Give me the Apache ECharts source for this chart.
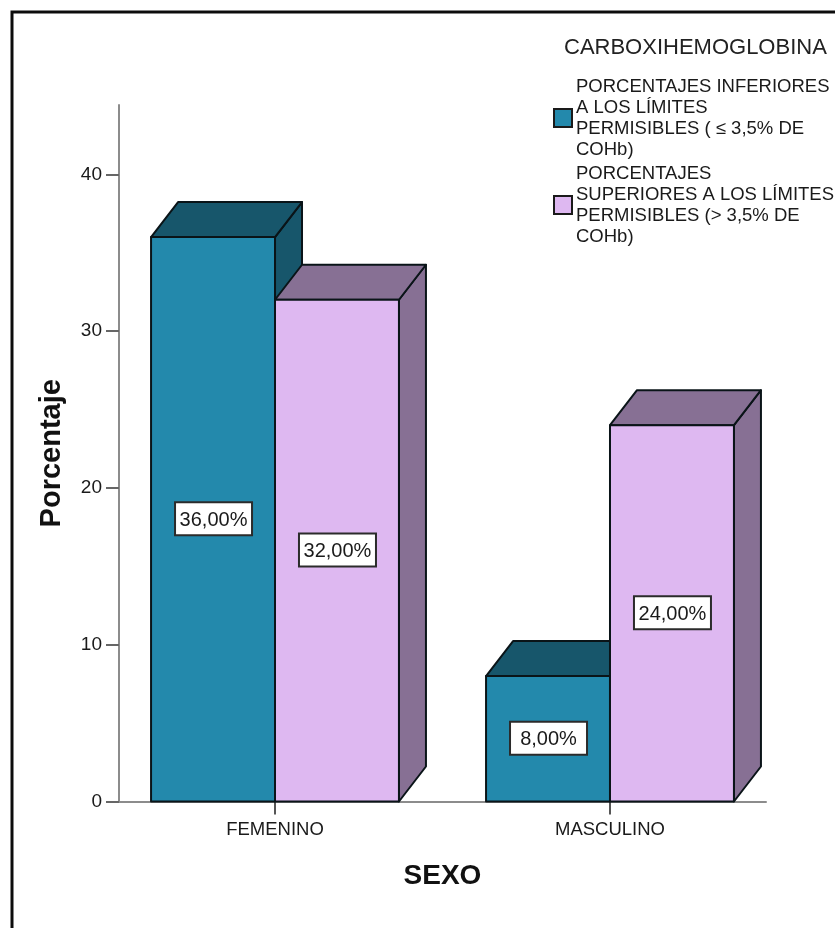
<!DOCTYPE html>
<html>
<head>
<meta charset="utf-8">
<style>html,body{margin:0;padding:0;background:#fff}#chart{width:835px;height:928px}</style>
<script src="https://cdn.jsdelivr.net/npm/echarts@6/dist/echarts.min.js"></script>
</head>
<body>
<div id="chart"></div>
<script>
const categories = ['FEMENINO', 'MASCULINO'];
const inferiores = [36, 8];
const superiores = [32, 24];
const valueTicks = [0, 10, 20, 30, 40];
const legendTitle = 'CARBOXIHEMOGLOBINA';
const inferioresName = 'PORCENTAJES INFERIORES\nA LOS LÍMITES\nPERMISIBLES ( ≤ 3,5% DE\nCOHb)';
const superioresName = 'PORCENTAJES\nSUPERIORES A LOS LÍMITES\nPERMISIBLES (> 3,5% DE\nCOHb)';

const FONT = '"Liberation Sans", Arial, sans-serif';
const BAR_WIDTH = 0.37;      // front face width, in category units
const DEPTH_X = 27, DEPTH_Y = 35;  // pixel offset of the back face

// Draws one extruded bar: side and top faces in the shaded colour, then the front and its value tag.
function prismRenderer(shift, frontColor, shadeColor) {
  return function (params, api) {
    const idx = api.value(0), val = api.value(1);
    const w = api.size([BAR_WIDTH, 0])[0];
    const base = api.coord([idx + shift, 0]);
    const top = api.coord([idx + shift, val]);
    const l = base[0] - w / 2, r = base[0] + w / 2, b = base[1], t = top[1];
    const edge = { stroke: '#0a1418', lineWidth: 2, lineJoin: 'round' };
    const poly = (points, fill) => ({
      type: 'polygon', shape: { points }, style: Object.assign({ fill }, edge)
    });
    const midY = (b + t) / 2;
    return {
      type: 'group',
      children: [
        poly([[r, b], [r + DEPTH_X, b - DEPTH_Y], [r + DEPTH_X, t - DEPTH_Y], [r, t]], shadeColor),
        poly([[l, t], [l + DEPTH_X, t - DEPTH_Y], [r + DEPTH_X, t - DEPTH_Y], [r, t]], shadeColor),
        poly([[l, b], [l, t], [r, t], [r, b]], frontColor),
        {
          type: 'rect',
          shape: { x: (l + r) / 2 - 38, y: midY - 17, width: 77, height: 33 },
          style: { fill: '#fff', stroke: '#2b2b2b', lineWidth: 2 }
        },
        {
          type: 'text',
          x: (l + r) / 2 + 0.5, y: midY + 1,
          style: {
            text: val.toFixed(2).replace('.', ',') + '%',
            fill: '#1a1a1a', font: '20px ' + FONT,
            align: 'center', verticalAlign: 'middle'
          }
        }
      ]
    };
  };
}

const chart = echarts.init(document.getElementById('chart'), null, { renderer: 'canvas' });
chart.setOption({
  animation: false,
  backgroundColor: '#fff',
  title: {
    text: legendTitle,
    left: 559, top: 32,
    textStyle: { fontFamily: FONT, fontSize: 22, fontWeight: 'normal', color: '#222' }
  },
  legend: {
    orient: 'vertical',
    left: 548, top: 71,
    itemWidth: 18, itemHeight: 18, itemGap: 3,
    icon: 'rect',
    selectedMode: false,
    itemStyle: { borderColor: '#1a1a1a', borderWidth: 2 },
    textStyle: { fontFamily: FONT, fontSize: 18.5, lineHeight: 21, color: '#1a1a1a', padding: [0, 0, 0, -1] },
    data: [inferioresName, superioresName]
  },
  grid: { left: 119, top: 105, width: 647, bottom: 126.5, containLabel: false },
  xAxis: {
    type: 'value',
    min: -0.4657, max: 1.4657,
    name: 'SEXO',
    nameLocation: 'center',
    nameGap: 61,
    nameTextStyle: { fontFamily: FONT, fontSize: 28, fontWeight: 'bold', color: '#111' },
    splitLine: { show: false },
    axisLine: { show: true, onZero: false, lineStyle: { color: '#8c8c8c', width: 2 } },
    axisTick: { show: true, length: 13, customValues: [0, 1], lineStyle: { color: '#555', width: 2 } },
    axisLabel: {
      customValues: [0, 1], margin: 19,
      fontFamily: FONT, fontSize: 18.5, color: '#1a1a1a',
      formatter: v => categories[v]
    }
  },
  yAxis: {
    type: 'value',
    min: 0, max: 44.42,
    name: 'Porcentaje',
    nameLocation: 'center',
    nameGap: 53,
    nameTextStyle: { fontFamily: FONT, fontSize: 29, fontWeight: 'bold', color: '#111' },
    splitLine: { show: false },
    axisLine: { show: true, onZero: false, lineStyle: { color: '#8c8c8c', width: 2 } },
    axisTick: { show: true, length: 13, customValues: valueTicks, lineStyle: { color: '#666', width: 2 } },
    axisLabel: {
      customValues: valueTicks, margin: 17,
      fontFamily: FONT, fontSize: 19, color: '#1a1a1a'
    }
  },
  series: [
    {
      name: inferioresName,
      type: 'custom',
      clip: false,
      itemStyle: { color: '#2389ac' },
      encode: { x: 0, y: 1 },
      data: inferiores.map((v, i) => [i, v]),
      renderItem: prismRenderer(-BAR_WIDTH / 2, '#2389ac', '#17566b')
    },
    {
      name: superioresName,
      type: 'custom',
      clip: false,
      itemStyle: { color: '#deb8f1' },
      encode: { x: 0, y: 1 },
      data: superiores.map((v, i) => [i, v]),
      renderItem: prismRenderer(BAR_WIDTH / 2, '#deb8f1', '#877094')
    }
  ],
  graphic: [
    {
      type: 'polyline',
      shape: { points: [[12, 928], [12, 12], [835, 12]] },
      style: { stroke: '#0c0c0c', lineWidth: 3, fill: 'none' },
      silent: true
    }
  ]
});
</script>
</body>
</html>
